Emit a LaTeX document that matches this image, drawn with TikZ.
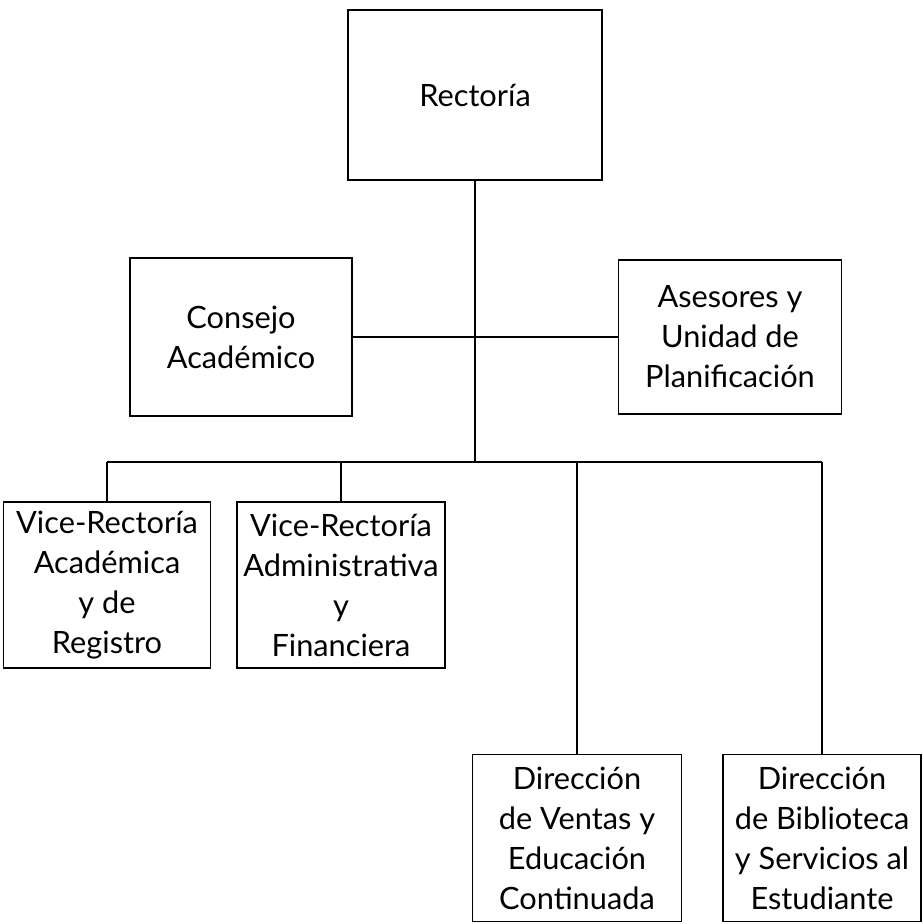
\documentclass[tikz,border=0pt]{standalone}
\usepackage{fontspec}
\setmainfont{Lato}
\usetikzlibrary{positioning}

\tikzset{
  orgbox/.style={draw, line width=1.1pt, align=center, inner sep=0pt,
    font=\fontsize{17.5}{22.8}\selectfont},
  orgline/.style={line width=1.1pt}
}

\begin{document}
\begin{tikzpicture}[x=0.02cm, y=-0.02cm]
  \useasboundingbox[fill=white] (0,0) rectangle (923,924);

  % top of the chart
  \node[orgbox, minimum width=5.08cm, minimum height=3.4cm] (rect) at (475,95) {Rector\'ia};
  \node[orgbox, minimum width=4.44cm, minimum height=3.16cm] (consejo) at (241,337)
    {Consejo\\Acad\'emico};
  \node[orgbox, minimum width=4.46cm, minimum height=3.08cm] (asesores) at (730,337)
    {Asesores y\\Unidad de\\Planificaci\'on};

  % lower row
  \node[orgbox, minimum width=4.14cm, minimum height=3.32cm] (vacad) at (107,585)
    {Vice-Rector\'ia\\Acad\'emica\\y de\\Registro};
  \node[orgbox, minimum width=4.16cm, minimum height=3.32cm] (vadmin) at (341,585)
    {Vice-Rector\'ia\\Administrativa\\y\\Financiera};
  \node[orgbox, minimum width=4.18cm, minimum height=3.34cm] (dventas) at (577,838)
    {Direcci\'on\\de Ventas y\\Educaci\'on\\Continuada};
  \node[orgbox, minimum width=3.96cm, minimum height=3.34cm] (dbiblio) at (822,838)
    {Direcci\'on\\de Biblioteca\\y Servicios al\\Estudiante};

  \coordinate (bus) at (475,462);

  \draw[orgline] (rect.south) -- (bus);
  \draw[orgline] (consejo.east) -- (asesores.west);
  \draw[orgline] (vacad.north |- bus) -- (dbiblio.north |- bus);
  \foreach \n in {vacad, vadmin, dventas, dbiblio}{
    \draw[orgline] (\n.north |- bus) -- (\n.north);
  }
\end{tikzpicture}
\end{document}
